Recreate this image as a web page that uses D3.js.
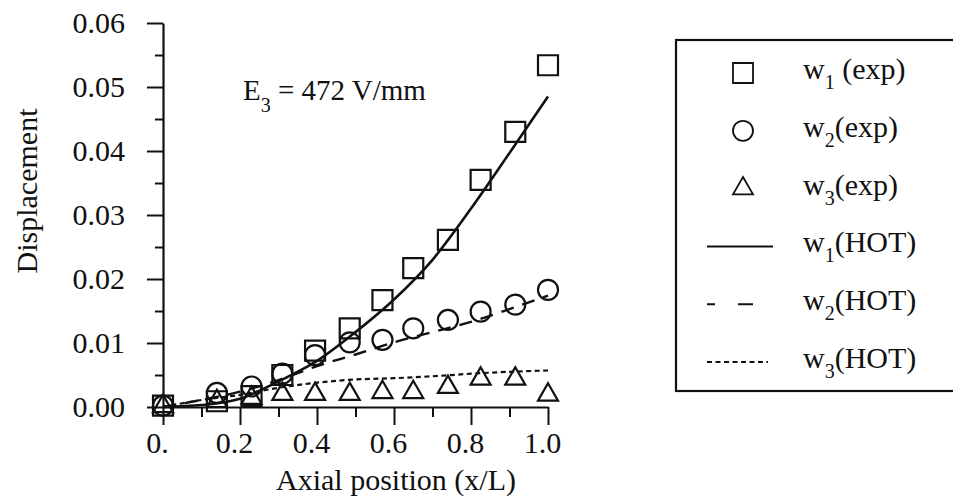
<!DOCTYPE html>
<html>
<head>
<meta charset="utf-8">
<script src="https://cdn.jsdelivr.net/npm/d3@7"></script>
<style>
  body { margin: 0; background: #fff; }
  text { font-family: "Liberation Serif", "Times New Roman", serif; fill: #111; }
</style>
</head>
<body>
<div class="chart"></div>
<script>
// measured positions along the bar (x/L)
const expX = [0, 0.14, 0.23, 0.31, 0.395, 0.485, 0.57, 0.65, 0.74, 0.825, 0.915, 1.0];
const w1Exp = [0.0002, 0.0009, 0.0017, 0.0050, 0.0088, 0.0123, 0.0167, 0.0217, 0.0261, 0.0355, 0.0430, 0.0534];
const w2Exp = [0.0002, 0.0022, 0.0032, 0.0052, 0.0081, 0.0101, 0.0105, 0.0123, 0.0136, 0.0149, 0.0160, 0.0183];
const w3Exp = [0.0001, 0.0009, 0.0014, 0.0020, 0.0020, 0.0020, 0.0023, 0.0023, 0.0031, 0.0044, 0.0044, 0.0019];

// HOT predictions
const hotX = [0, 0.1, 0.2, 0.3, 0.4, 0.5, 0.6, 0.7, 0.8, 0.9, 1.0];
const w1Hot = [0, 0.0003, 0.0013, 0.0040, 0.0072, 0.0117, 0.0168, 0.0230, 0.0310, 0.0397, 0.0485];
const w2Hot = [0, 0.0011, 0.0024, 0.0042, 0.0064, 0.0082, 0.0101, 0.0117, 0.0133, 0.0153, 0.0174];
const w3Hot = [0, 0.0011, 0.0019, 0.0030, 0.0038, 0.0043, 0.0045, 0.0048, 0.0052, 0.0055, 0.0057];

const xTicks = [0, 0.2, 0.4, 0.6, 0.8, 1.0];
const xMinor = [0.1, 0.3, 0.5, 0.7, 0.9];
const yTicks = [0, 0.01, 0.02, 0.03, 0.04, 0.05, 0.06];
const yMinor = [0.005, 0.015, 0.025, 0.035, 0.045, 0.055];

const legendItems = [
  {sub: '1', rest: ' (exp)', kind: 'square'},
  {sub: '2', rest: '(exp)', kind: 'circle'},
  {sub: '3', rest: '(exp)', kind: 'triangle'},
  {sub: '1', rest: '(HOT)', kind: 'solid'},
  {sub: '2', rest: '(HOT)', kind: 'dashed'},
  {sub: '3', rest: '(HOT)', kind: 'dotted'}
];

const W = 953, H = 499;
const margin = {top: 23, left: 163};
const width = 385, height = 384;
const ink = '#111';

const xScale = d3.scaleLinear().domain([0, 1]).range([0, width]);
const yScale = d3.scaleLinear().domain([0, 0.06]).range([height, 0]);

const svg = d3.select('.chart').append('svg')
    .attr('width', W)
    .attr('height', H);

const g = svg.append('g')
    .attr('transform', `translate(${margin.left},${margin.top})`);

const styleAxis = function (axis) {
  axis.select('.domain').attr('stroke', ink).attr('stroke-width', 2.2);
  axis.selectAll('.tick line').attr('stroke', ink).attr('stroke-width', 2);
  axis.selectAll('text').style('font-size', '30px').attr('fill', ink);
};

// x axis
const xAxis = g.append('g')
    .attr('class', 'axis axis--x')
    .attr('transform', `translate(0,${height})`)
    .call(d3.axisBottom(xScale).tickValues(xTicks).tickSize(18).tickSizeOuter(0)
      .tickFormat(d => d === 0 ? '0.' : d3.format('.1f')(d)));
styleAxis(xAxis);
xAxis.selectAll('text').attr('y', 46).attr('dy', null).attr('dx', -6);

g.append('g')
    .attr('transform', `translate(0,${height})`)
    .call(d3.axisBottom(xScale).tickValues(xMinor).tickSize(10).tickFormat(''))
    .call(a => a.select('.domain').remove())
    .call(styleAxis);

// y axis
const yAxis = g.append('g')
    .attr('class', 'axis axis--y')
    .call(d3.axisLeft(yScale).tickValues(yTicks).tickSize(16).tickPadding(22).tickSizeOuter(0)
      .tickFormat(d3.format('.2f')));
styleAxis(yAxis);

g.append('g')
    .call(d3.axisLeft(yScale).tickValues(yMinor).tickSize(8).tickFormat(''))
    .call(a => a.select('.domain').remove())
    .call(styleAxis);

// axis titles
svg.append('text')
    .attr('x', margin.left + 233)
    .attr('y', 490)
    .attr('text-anchor', 'middle')
    .style('font-size', '30px')
    .text('Axial position (x/L)');

svg.append('text')
    .attr('transform', 'translate(37,191) rotate(-90)')
    .attr('text-anchor', 'middle')
    .style('font-size', '30px')
    .text('Displacement');

// annotation
const note = svg.append('text')
    .attr('x', 243)
    .attr('y', 100)
    .style('font-size', '29px');
note.append('tspan').text('E');
note.append('tspan').attr('dy', 12).style('font-size', '20px').text('3');
note.append('tspan').attr('dy', -12).text(' = 472 V/mm');

// HOT curves
const line = d3.line()
    .x((d, i) => xScale(hotX[i]))
    .y(d => yScale(d))
    .curve(d3.curveMonotoneX);

const hotSeries = [
  {values: w1Hot, dash: null, sw: 2.6},
  {values: w2Hot, dash: '13,9', sw: 2.4},
  {values: w3Hot, dash: '5,3.5', sw: 2.2}
];

g.append('g').attr('class', 'lines-g')
  .selectAll('path')
  .data(hotSeries)
  .enter()
  .append('path')
    .attr('d', d => line(d.values))
    .attr('fill', 'none')
    .attr('stroke', ink)
    .attr('stroke-width', d => d.sw)
    .attr('stroke-dasharray', d => d.dash);

// experimental markers
const symbolFor = {
  square: d3.symbol().type(d3.symbolSquare).size(400),
  circle: d3.symbol().type(d3.symbolCircle).size(314),
  triangle: d3.symbol().type(d3.symbolTriangle).size(173)
};

const expSeries = [
  {values: w1Exp, kind: 'square'},
  {values: w2Exp, kind: 'circle'},
  {values: w3Exp, kind: 'triangle'}
];

expSeries.forEach(s => {
  g.append('g')
    .selectAll('path')
    .data(s.values)
    .enter()
    .append('path')
      .attr('transform', (d, i) => `translate(${xScale(expX[i])},${yScale(d)})`)
      .attr('d', symbolFor[s.kind]())
      .attr('fill', 'none')
      .attr('stroke', ink)
      .attr('stroke-width', 2.2);
});

// legend
const legend = svg.append('g').attr('class', 'legend');
legend.append('rect')
    .attr('x', 676)
    .attr('y', 40)
    .attr('width', 320)
    .attr('height', 351)
    .attr('fill', 'none')
    .attr('stroke', ink)
    .attr('stroke-width', 2.2);

const rowY = i => 73 + i * 57.8;

legendItems.forEach((item, i) => {
  const y = rowY(i);
  if (symbolFor[item.kind]) {
    legend.append('path')
        .attr('transform', `translate(743,${y})`)
        .attr('d', symbolFor[item.kind]())
        .attr('fill', 'none')
        .attr('stroke', ink)
        .attr('stroke-width', 1.8);
  } else {
    const dash = {solid: null, dashed: '8,23,15,100', dotted: '5,3.5'}[item.kind];
    legend.append('line')
        .attr('x1', 707)
        .attr('x2', item.kind === 'dotted' ? 768 : 773)
        .attr('y1', y)
        .attr('y2', y)
        .attr('stroke', ink)
        .attr('stroke-width', 2)
        .attr('stroke-dasharray', dash);
  }
  const t = legend.append('text')
      .attr('x', 803)
      .attr('y', y + 6)
      .style('font-size', '30px');
  t.append('tspan').text('w');
  t.append('tspan').attr('dy', 10).style('font-size', '20px').text(item.sub);
  t.append('tspan').attr('dy', -10).text(item.rest);
});
</script>
</body>
</html>
